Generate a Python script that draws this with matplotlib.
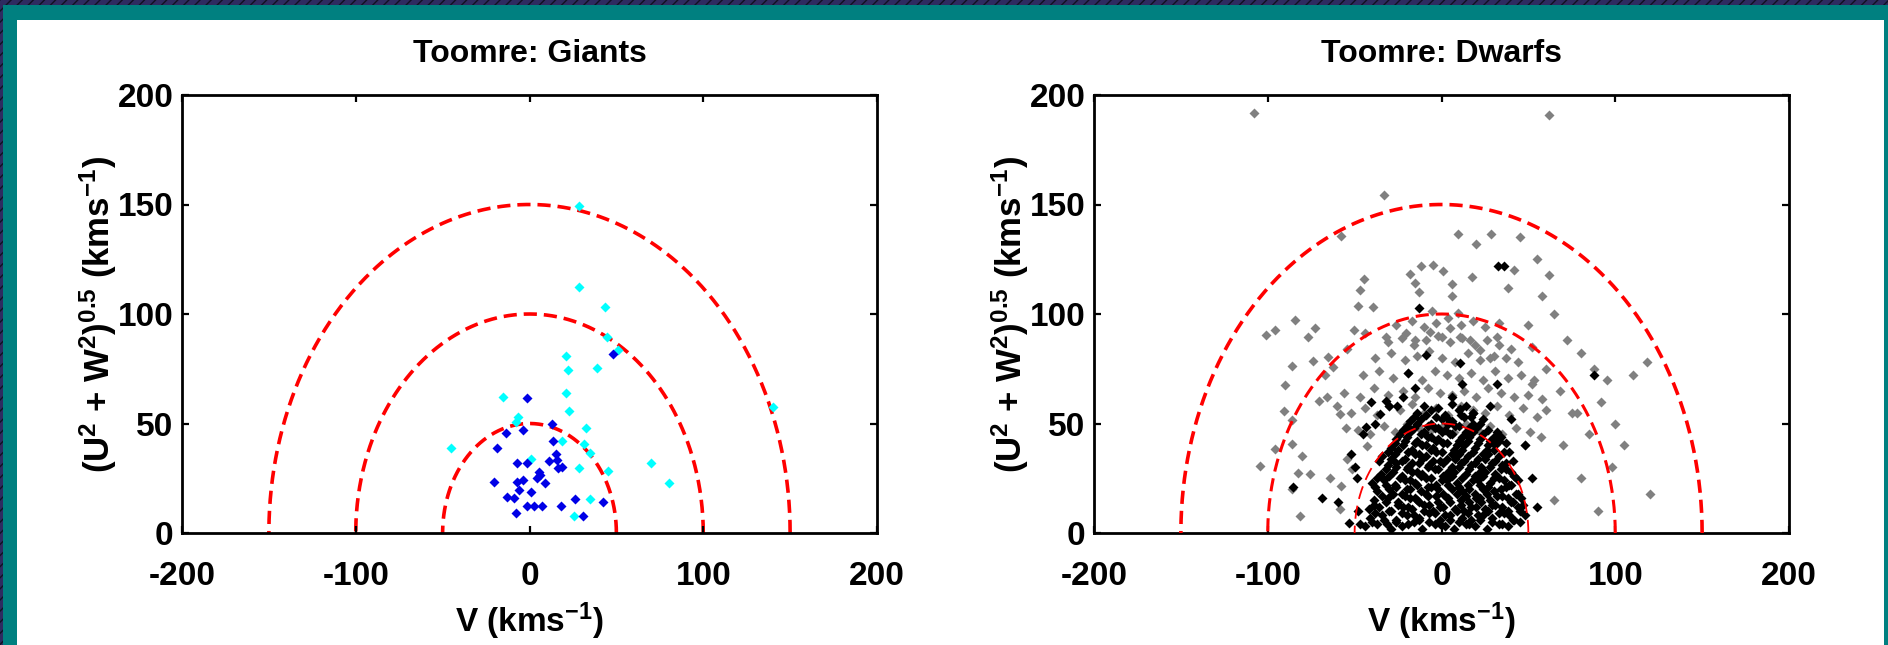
import numpy as np
import matplotlib
matplotlib.use("Agg")
import matplotlib.pyplot as plt
from matplotlib.patches import Rectangle

plt.rcParams['font.family'] = ['Liberation Sans', 'DejaVu Sans']
plt.rcParams['font.weight'] = 'bold'
plt.rcParams['mathtext.fontset'] = 'custom'
plt.rcParams['mathtext.rm'] = 'Liberation Sans'
plt.rcParams['mathtext.default'] = 'regular'
plt.rcParams['axes.unicode_minus'] = False
plt.rcParams['hatch.linewidth'] = 1.0

# ---- data: giants ----
giant_thin_v = [-1.6, 12.8, -3.5, -13.5, -18.5, 13.7, 15.2, 11.4, 18.5, 16.6, -7, -1.6, 5.7, 4.5,
                9, -20.4, -7, -3.5, -5.9, 0.9, -13.1, -8.7, -1.6, 2.8, 7, 17.9, -7.8, 26.2,
                30.6, 42.1, 48.3, 6.0, 15.6]
giant_thin_u = [61.5, 49.8, 47.1, 45.8, 39, 42.2, 36.1, 32.9, 30.3, 29.5, 31.8, 31.8, 28, 25,
                22.7, 23.5, 23.2, 24.2, 19.6, 18.9, 16.6, 15.8, 12.3, 12.3, 12.3, 12.3, 9, 15.5,
                7.9, 14, 81.7, 26.5, 33.3]
giant_thick_v = [28.5, 28.5, 43.3, 44.4, 51.1, 20.8, 22, 39, 20.8, -15, 23, -6.8, -7.8, 32.5,
                 18.9, 31.6, 34.8, -45.2, 0.9, 28.5, 45.4, 69.7, 80.5, 34.8, 25.6, 140]
giant_thick_u = [149.3, 112.5, 103.4, 89.7, 83.6, 81, 74.4, 75.2, 64.1, 62.3, 55.9, 53.1, 50.9, 48.1,
                 42, 40.7, 36.4, 38.7, 33.6, 29.5, 28.3, 31.8, 22.7, 15.5, 7.9, 57.4]

# ---- data: dwarfs, thick disc / halo (grey) ----
dwarf_thick_v = [-107.7, -33.1, -58, 9.3, 19.9, 28.3, -18.1, -12, -4.7, 0.7, -15.3, -12.8, 5.9, 17.4,
                 6.2, -44.6, -46.9, -47.9, -39.6, -5.3, 9.7, -84.3, -95.8, -101.2, -72.8, -76.6,
                 -50.2, -44, -32, -20.4, -15.3, -6.6, 0.1, 4.9, 10.6, 16.4, 22.2, 27.9, 32.1,
                 -54.6, -65.1, -73.8, -86.2, -62.2, -67, -90.1, -70.3, -58.4, -90.6, -86.2, -95.8,
                 -86.2, -80.1, -104.5, -82.8, -75.7, -64.2, -58, -86.2, -81.4, -58.4, -51.7, -54.6,
                 -43.1, 62, 45, 55, 42, 58, 65, 50, 72, 80, 88, 95, 110, 118, 92, 100, 105,
                 120, 98, 85, 75, 68, 60, 52, 38, 62, 70, 80, 90, 65, 78]
dwarf_thick_u = [192, 154.2, 135.7, 136.5, 132.1, 136.5, 118.2, 122, 122.3, 119.7, 114, 110.2, 113.7, 116.8,
                 108.2, 115.9, 111, 103.8, 103, 101.5, 100.3, 97.2, 92.9, 90.3, 93.8, 89.6,
                 92.9, 91.1, 89.6, 91.1, 88, 91.9, 89.6, 93.4, 89.3, 88, 83.7, 80.1, 89.6,
                 84.2, 80.4, 78.4, 76.1, 75.8, 72, 67.4, 60.2, 54.4, 55.9, 51.6, 38.3,
                 40.6, 35.3, 30.7, 27.6, 26.9, 25, 21.5, 20, 7.8, 10.8, 29.2, 33.7,
                 39.9, 191, 135, 125, 120, 108, 100, 95, 88, 82, 75, 70, 72, 78, 60, 50, 40,
                 18, 30, 45, 55, 65, 75, 85, 112, 118, 40, 25, 10, 15, 55]
dwarf_halo_v = [-48, -41, -33, -27, -20, -13, -6, 1, 7, 14, 21, 28, 35, 43, 51,
                -52, -44, -37, -30, -24, -17, -10, -3, 4, 11, 18, 25, 32, 39, 47, 55,
                -56, -47, -39, -31, -22, -15, -8, -1, 6, 13, 20, 27, 34, 42, 50, 58,
                -45, -36, -28, -19, -11, -4, 3, 10, 17, 24, 31, 38, 46, 53,
                -38, -29, -21, -14, -7, 0, 8, 15, 22, 30, 37, 44,
                -31, -23, -16, -9, -2, 5, 12, 19, 26, 33, 40,
                -26, -17, -10, -3, 4, 11, 18, 25, 33,
                -60, -55, -66, 52, 60, 57, 48]
dwarf_halo_u = [47, 45, 49, 46, 50, 48, 47, 49, 46, 50, 47, 49, 45, 48, 46,
                55, 57, 54, 58, 56, 59, 55, 57, 54, 58, 56, 55, 58, 54, 57, 53,
                64, 62, 66, 63, 65, 62, 66, 64, 63, 65, 62, 66, 64, 62, 63, 61,
                72, 74, 71, 73, 70, 74, 72, 71, 73, 70, 74, 71, 72, 70,
                80, 82, 79, 81, 83, 80, 78, 82, 79, 81, 80, 78,
                87, 89, 86, 88, 90, 87, 89, 86, 88, 86, 84,
                95, 97, 94, 96, 98, 95, 97, 94, 96,
                58, 48, 62, 68, 56, 44, 40]

# ---- data: dwarfs, thin disc (black) ----
dwarf_thin_v = [-12.8, -8.9, 10.6, 32.7, 31.8, -19.1, -40.8, -32, -25.8, -43.5, -35.4, 5.9, 10.6, 17.9,
                -85.3, -68.6, -59.4, -53, -46.9, -52.3, -48.8, -31.6, 88, 36,
                -45, -38, -30, -22, 48, 52, 55, -48, -50, 40, 28, -15, 12]
dwarf_thin_u = [102.9, 81.2, 77.6, 122, 68.2, 73.1, 59.7, 60.2, 58.2, 48.3, 54.4, 62, 56.7, 54.7,
                21.1, 16.2, 14.3, 4.7, 4.2, 36, 25.3, 3.9, 72, 122,
                45, 50, 58, 62, 40, 25, 12, 10, 30, 52, 58, 66, 68]
dwarf_core_v = [-44, -37, -29, -23, -16, -11, -4, 2, 7, 14, 19, 26, 33, 38, 45,
                -41, -34, -26, -20, -13, -7, -1, 5, 12, 17, 24, 29, 36, 42, 48,
                -42, -36, -29, -22, -17, -10, -5, 1, 8, 13, 20, 25, 31, 38, 44,
                -39, -31, -25, -18, -14, -8, -2, 4, 11, 16, 22, 28, 35, 40, 46,
                -37, -30, -23, -18, -12, -6, 1, 6, 12, 19, 24, 30, 37, 43,
                -40, -33, -27, -21, -15, -9, -3, 3, 9, 15, 21, 28, 33, 39, 44,
                -35, -28, -23, -17, -11, -4, 1, 7, 14, 19, 25, 31, 37, 42,
                -31, -26, -19, -13, -7, -1, 6, 11, 17, 23, 29, 35, 41,
                -34, -27, -21, -15, -9, -3, 3, 10, 15, 21, 27, 33, 39,
                -29, -22, -17, -11, -5, 1, 7, 13, 19, 26, 31, 37,
                -26, -20, -14, -8, -2, 5, 10, 16, 22, 28, 34,
                -22, -16, -10, -4, 2, 8, 14, 20, 27, 32,
                -18, -12, -6, 0, 6, 13, 18, 24,
                -14, -6, 2, 10, 18]
dwarf_core_u = [3, 4, 2, 3, 5, 2, 4, 3, 2, 4, 3, 2, 4, 3, 5,
                7, 8, 6, 8, 7, 9, 6, 8, 7, 6, 8, 7, 9, 6, 8,
                11, 12, 10, 12, 11, 13, 10, 12, 11, 10, 12, 11, 13, 10, 12,
                15, 16, 14, 16, 15, 17, 14, 16, 15, 14, 16, 15, 17, 14, 16,
                19, 20, 18, 20, 19, 21, 18, 20, 19, 18, 20, 19, 21, 18,
                23, 24, 22, 24, 23, 25, 22, 24, 23, 22, 24, 23, 25, 22, 24,
                27, 28, 26, 28, 27, 29, 26, 28, 27, 26, 28, 27, 29, 26,
                31, 32, 30, 32, 31, 33, 30, 32, 31, 30, 32, 31, 33,
                35, 36, 34, 36, 35, 37, 34, 36, 35, 34, 36, 35, 37,
                39, 40, 38, 40, 39, 41, 38, 40, 39, 38, 40, 41,
                43, 44, 42, 44, 43, 45, 42, 44, 43, 42, 44,
                47, 48, 46, 48, 47, 49, 46, 48, 47, 46,
                51, 52, 50, 52, 51, 53, 50, 52,
                55, 56, 54, 56, 55]
dwarf_fill_v = [-40, -33, -26, -19, -13, -7, -1, 5, 10, 16, 22, 29, 35, 41,
                -38, -30, -23, -16, -10, -4, 2, 9, 15, 21, 27, 33, 39, 45,
                -39, -32, -25, -19, -13, -7, -1, 5, 11, 17, 23, 29, 35, 41, 47,
                -34, -28, -21, -15, -9, -3, 3, 9, 14, 20, 26, 32, 38, 44,
                -38, -32, -26, -20, -14, -8, -2, 4, 10, 16, 22, 27, 34, 40,
                -37, -30, -24, -18, -12, -6, 0, 6, 12, 18, 24, 30, 36, 42,
                -32, -26, -20, -14, -8, -2, 4, 10, 16, 22, 28, 34, 40,
                -36, -29, -23, -17, -11, -5, 1, 8, 13, 19, 25, 31, 37,
                -31, -25, -19, -13, -6, 0, 6, 12, 18, 24, 30, 36,
                -27, -21, -15, -9, -3, 3, 9, 15, 21, 27, 33,
                -24, -18, -12, -6, 0, 6, 12, 18, 24, 30,
                -20, -14, -8, -2, 4, 10, 16, 22,
                -16, -9, -3, 4, 11, 17,
                -10, -2, 6, 14]
dwarf_fill_u = [5, 6, 5, 4, 6, 5, 4, 6, 5, 4, 6, 5, 4, 6,
                9, 10, 9, 8, 10, 9, 8, 10, 9, 8, 10, 9, 8, 10,
                13, 14, 13, 12, 14, 13, 12, 14, 13, 12, 14, 13, 12, 14, 13,
                17, 18, 17, 16, 18, 17, 16, 18, 17, 16, 18, 17, 16, 18,
                21, 22, 21, 20, 22, 21, 20, 22, 21, 20, 22, 21, 20, 22,
                25, 26, 25, 24, 26, 25, 24, 26, 25, 24, 26, 25, 24, 26,
                29, 30, 29, 28, 30, 29, 28, 30, 29, 28, 30, 29, 28,
                33, 34, 33, 32, 34, 33, 32, 34, 33, 32, 34, 33, 32,
                37, 38, 37, 36, 38, 37, 36, 38, 37, 36, 38, 37,
                41, 42, 41, 40, 42, 41, 40, 42, 41, 40, 42,
                45, 46, 45, 44, 46, 45, 44, 46, 45, 44,
                49, 50, 49, 48, 50, 49, 48, 50,
                53, 54, 53, 52, 54, 53,
                58, 57, 59, 58]

radii = [50, 100, 150]

fig = plt.figure(figsize=(18.88, 6.45), dpi=100)
W, H = 1888.0, 645.0
fig.patches.append(Rectangle((0, 0), 1, 1, transform=fig.transFigure, facecolor='#2e2b60',
                             edgecolor='#111122', hatch='///', linewidth=0, zorder=-3))
fig.patches.append(Rectangle((3 / W, 0), 1, 1 - 5 / H, transform=fig.transFigure,
                             facecolor='#008080', edgecolor='none', zorder=-2))
fig.patches.append(Rectangle((17 / W, 0), (1884 - 17) / W, 1 - 20 / H, transform=fig.transFigure,
                             facecolor='white', edgecolor='none', zorder=-1))

ax1 = fig.add_axes([182 / W, (H - 533) / H, 695 / W, 438 / H])
ax2 = fig.add_axes([1094 / W, (H - 533) / H, 695 / W, 438 / H])

t = np.linspace(0, np.pi, 400)


def draw_arcs(ax, z, widths):
    for r, lw in zip(radii, widths):
        ln, = ax.plot(r * np.cos(t), r * np.sin(t), color='red', lw=lw, zorder=z)
        ln.set_dashes((3.8 * 2.5 / lw, 2.0 * 2.5 / lw))


ms = 5.2

# giants
draw_arcs(ax1, 1, [2.6, 2.6, 2.6])
ax1.plot(giant_thick_v, giant_thick_u, 'D', color='#00ffff', ms=ms, mec='none', zorder=2)
ax1.plot(giant_thin_v, giant_thin_u, 'D', color='#0000e6', ms=ms, mec='none', zorder=3)
ax1.set_title('Toomre: Giants', fontsize=23, fontweight='bold', pad=24)

# dwarfs
ax2.plot(dwarf_thick_v, dwarf_thick_u, 'D', color='#808080', ms=ms, mec='none', zorder=2)
ax2.plot(dwarf_halo_v, dwarf_halo_u, 'D', color='#808080', ms=ms, mec='none', zorder=2)
ax2.plot(dwarf_core_v, dwarf_core_u, 'D', color='black', ms=ms, mec='none', zorder=3)
ax2.plot(dwarf_fill_v, dwarf_fill_u, 'D', color='black', ms=ms, mec='none', zorder=3)
ax2.plot(dwarf_thin_v, dwarf_thin_u, 'D', color='black', ms=ms, mec='none', zorder=3)
draw_arcs(ax2, 4, [1.3, 2.2, 2.6])
ax2.set_title('Toomre: Dwarfs', fontsize=23, fontweight='bold', pad=24)

for ax in (ax1, ax2):
    ax.set_xlim(-200, 200)
    ax.set_ylim(0, 200)
    ax.set_xticks([-200, -100, 0, 100, 200])
    ax.set_yticks([0, 50, 100, 150, 200])
    ax.tick_params(direction='in', length=5, width=1.6, top=True, right=True, labelsize=24)
    ax.tick_params(axis='x', pad=20)
    ax.tick_params(axis='y', pad=6)
    for lab in ax.get_xticklabels() + ax.get_yticklabels():
        lab.set_fontweight('bold')
    for sp in ax.spines.values():
        sp.set_linewidth(2)
    ax.set_xlabel('V (kms$^{-1}$)', fontsize=24, fontweight='bold', labelpad=6)
    ax.set_ylabel('(U$^2$ + W$^2$)$^{0.5}$ (kms$^{-1}$)', fontsize=25, fontweight='bold', labelpad=-1)

fig.savefig('out.png', dpi=100)
